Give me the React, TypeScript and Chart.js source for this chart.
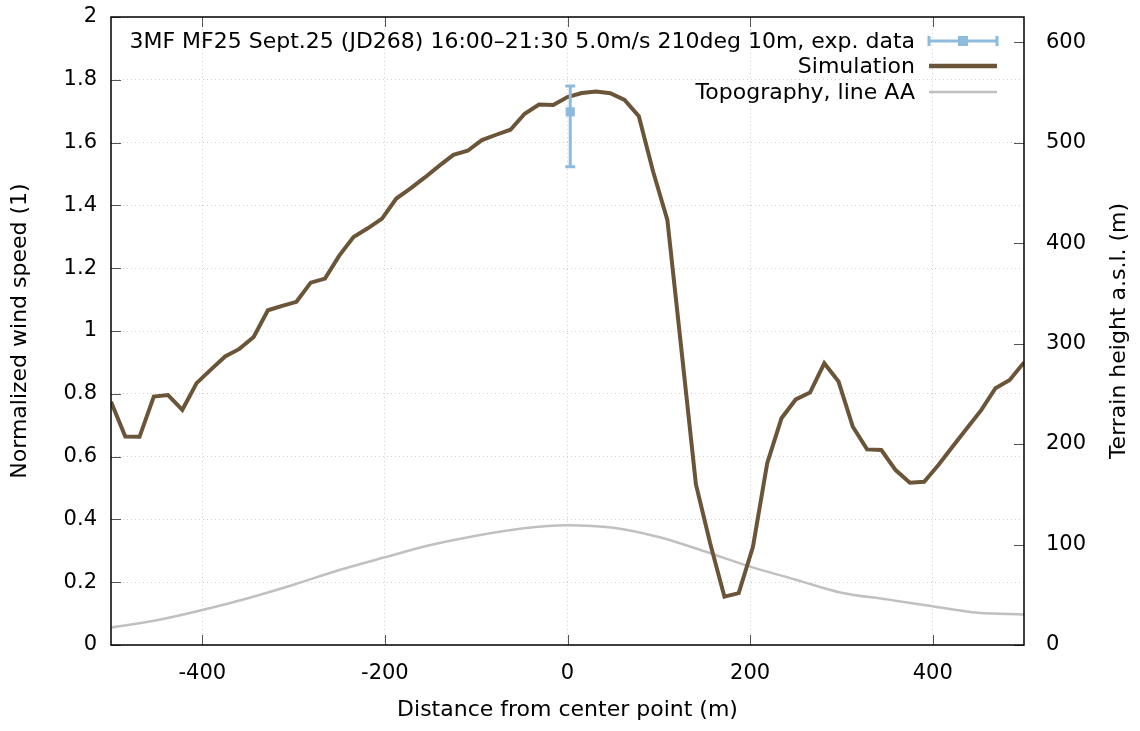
import React, { useEffect, useRef } from 'react';
import { Chart, registerables } from 'chart.js';

Chart.register(...registerables);

const FONT = 'DejaVu Sans';

// simulation profile along the line (normalized wind speed)
const simX = [
    -500, -484.375, -468.75, -453.125, -437.5, -421.875, -406.25, -390.625, -375, -359.375,
    -343.75, -328.125, -312.5, -296.875, -281.25, -265.625, -250, -234.375, -218.75, -203.125,
    -187.5, -171.875, -156.25, -140.625, -125, -109.375, -93.75, -78.125, -62.5, -46.875,
    -31.25, -15.625, 0, 15.625, 31.25, 46.875, 62.5, 78.125, 93.75, 109.375,
    125, 140.625, 156.25, 171.875, 187.5, 203.125, 218.75, 234.375, 250, 265.625,
    281.25, 296.875, 312.5, 328.125, 343.75, 359.375, 375, 390.625, 406.25, 421.875,
    437.5, 453.125, 468.75, 484.375, 500,
];
const simY = [
    0.775, 0.664, 0.663, 0.791, 0.796, 0.749, 0.834, 0.877, 0.919, 0.943,
    0.981, 1.066, 1.080, 1.093, 1.154, 1.167, 1.240, 1.299, 1.327, 1.358,
    1.422, 1.454, 1.489, 1.526, 1.561, 1.574, 1.608, 1.625, 1.641, 1.692,
    1.721, 1.720, 1.745, 1.758, 1.763, 1.757, 1.736, 1.684, 1.508, 1.354,
    0.935, 0.512, 0.324, 0.154, 0.165, 0.313, 0.579, 0.722, 0.782, 0.804,
    0.897, 0.839, 0.695, 0.623, 0.621, 0.557, 0.517, 0.520, 0.573, 0.632,
    0.690, 0.748, 0.818, 0.844, 0.900,
];

// terrain height (m a.s.l.)
const topoX = [-500, -450, -400, -350, -300, -250, -200, -150, -100, -50, 0, 50, 100, 150, 200, 250, 300, 350, 400, 450, 500];
const topoY = [17.3, 24.6, 34.8, 46.6, 60.0, 74.6, 87.3, 99.5, 108.8, 116.0, 119.3, 116.8, 107.5, 93.3, 78.0, 65.0, 52.0, 45.4, 38.5, 32.0, 30.4];

// measurement with error bar
const expX = [3];
const expY = [1.698];
const expLow = [1.523];
const expHigh = [1.78];

const xTicks = [-400, -200, 0, 200, 400];
const yTicks = [0, 0.2, 0.4, 0.6, 0.8, 1, 1.2, 1.4, 1.6, 1.8, 2];
const y2Ticks = [0, 100, 200, 300, 400, 500, 600];

const EXP_LABEL = '3MF MF25 Sept.25 (JD268) 16:00\u201321:30 5.0m/s 210deg 10m, exp. data';
const BLUE = '#8dbbdc';
const BROWN = '#6b5538';
const GREY = '#c0c0c0';

const errorBars = {
    id: 'errorBars',
    afterDatasetsDraw(chart: any) {
        const { ctx, scales } = chart;
        ctx.save();
        ctx.strokeStyle = BLUE;
        ctx.lineWidth = 3;
        expX.forEach((x, i) => {
            const px = scales.x.getPixelForValue(x);
            const lo = scales.y.getPixelForValue(expLow[i]);
            const hi = scales.y.getPixelForValue(expHigh[i]);
            ctx.beginPath();
            ctx.moveTo(px, lo);
            ctx.lineTo(px, hi);
            ctx.moveTo(px - 5, lo);
            ctx.lineTo(px + 5, lo);
            ctx.moveTo(px - 5, hi);
            ctx.lineTo(px + 5, hi);
            ctx.stroke();
        });
        ctx.restore();
    },
};

// gnuplot-like frame with inward tick marks, legend and y2 label
const decorations = {
    id: 'decorations',
    afterDraw(chart: any) {
        const { ctx, chartArea: a, scales } = chart;
        ctx.save();
        ctx.strokeStyle = '#555';
        ctx.lineWidth = 1;
        ctx.beginPath();
        xTicks.forEach((v) => {
            const px = Math.round(scales.x.getPixelForValue(v)) + 0.5;
            ctx.moveTo(px, a.bottom);
            ctx.lineTo(px, a.bottom - 10);
            ctx.moveTo(px, a.top);
            ctx.lineTo(px, a.top + 10);
        });
        yTicks.forEach((v) => {
            const py = Math.round(scales.y.getPixelForValue(v)) + 0.5;
            ctx.moveTo(a.left, py);
            ctx.lineTo(a.left + 10, py);
        });
        y2Ticks.forEach((v) => {
            const py = Math.round(scales.y2.getPixelForValue(v)) + 0.5;
            ctx.moveTo(a.right, py);
            ctx.lineTo(a.right - 10, py);
        });
        ctx.stroke();

        ctx.strokeStyle = '#000';
        ctx.lineWidth = 1.5;
        ctx.strokeRect(a.left, a.top, a.right - a.left, a.bottom - a.top);

        // legend
        const textRight = 915;
        const x0 = 929;
        const x1 = 997;
        const rows = [41, 66, 92];
        ctx.font = `22px "${FONT}"`;
        ctx.fillStyle = '#000';
        ctx.textAlign = 'right';
        ctx.textBaseline = 'middle';
        chart.data.datasets.forEach((ds: any, i: number) => {
            const y = rows[i];
            ctx.fillText(ds.label, textRight, y + 1);
            ctx.strokeStyle = ds.borderColor || ds.backgroundColor;
            ctx.lineWidth = ds.legendWidth;
            ctx.beginPath();
            ctx.moveTo(x0, y);
            ctx.lineTo(x1, y);
            if (i === 0) {
                ctx.moveTo(x0, y - 5);
                ctx.lineTo(x0, y + 5);
                ctx.moveTo(x1, y - 5);
                ctx.lineTo(x1, y + 5);
            }
            ctx.stroke();
            if (i === 0) {
                ctx.fillStyle = BLUE;
                ctx.fillRect((x0 + x1) / 2 - 5, y - 5, 10, 10);
                ctx.fillStyle = '#000';
            }
        });

        // right axis title, reading bottom to top
        ctx.font = `22px "${FONT}"`;
        ctx.translate(1119, (a.top + a.bottom) / 2);
        ctx.rotate(-Math.PI / 2);
        ctx.textAlign = 'center';
        ctx.fillText('Terrain height a.s.l. (m)', 0, 0);
        ctx.restore();
    },
};

const tickFont = { family: FONT, size: 21 };
const titleFont = { family: FONT, size: 22 };

const App: React.FC = () => {
    const canvasRef = useRef<HTMLCanvasElement>(null);
    const chartRef = useRef<Chart | null>(null);

    useEffect(() => {
        if (!canvasRef.current) return;
        if (chartRef.current) chartRef.current.destroy();

        chartRef.current = new Chart(canvasRef.current, {
            type: 'line',
            data: {
                datasets: [
                    {
                        label: EXP_LABEL,
                        data: expX.map((x, i) => ({ x, y: expY[i] })),
                        showLine: false,
                        pointStyle: 'rect',
                        pointRadius: 6.5,
                        pointBorderWidth: 0,
                        backgroundColor: BLUE,
                        borderColor: BLUE,
                        yAxisID: 'y',
                        legendWidth: 3,
                    } as any,
                    {
                        label: 'Simulation',
                        data: simX.map((x, i) => ({ x, y: simY[i] })),
                        borderColor: BROWN,
                        borderWidth: 4,
                        pointRadius: 0,
                        tension: 0,
                        yAxisID: 'y',
                        legendWidth: 4.5,
                    } as any,
                    {
                        label: 'Topography, line AA',
                        data: topoX.map((x, i) => ({ x, y: topoY[i] })),
                        borderColor: GREY,
                        borderWidth: 2.5,
                        pointRadius: 0,
                        cubicInterpolationMode: 'monotone',
                        yAxisID: 'y2',
                        legendWidth: 2.5,
                    } as any,
                ],
            },
            options: {
                responsive: false,
                animation: false,
                layout: { padding: { top: 17, left: 0, right: 0, bottom: 0 } },
                plugins: {
                    legend: { display: false },
                    tooltip: { enabled: false },
                },
                scales: {
                    x: {
                        type: 'linear',
                        position: 'bottom',
                        min: -500,
                        max: 500,
                        afterBuildTicks: (s: any) => {
                            s.ticks = xTicks.map((value) => ({ value }));
                        },
                        afterFit: (s: any) => {
                            s.height = 86;
                            s.paddingLeft = 0;
                            s.paddingRight = 0;
                        },
                        grid: { color: '#d0d0d0', lineWidth: 1, drawTicks: false },
                        border: { display: false, dash: [1, 3] },
                        ticks: { font: tickFont, color: '#000', padding: 16, maxRotation: 0, autoSkip: false },
                        title: {
                            display: true,
                            text: 'Distance from center point (m)',
                            font: titleFont,
                            color: '#000',
                            padding: { top: 0, bottom: 8 },
                        },
                    },
                    y: {
                        type: 'linear',
                        position: 'left',
                        min: 0,
                        max: 2,
                        afterBuildTicks: (s: any) => {
                            s.ticks = yTicks.map((value) => ({ value }));
                        },
                        afterFit: (s: any) => {
                            s.width = 111;
                            s.paddingTop = 0;
                            s.paddingBottom = 0;
                        },
                        grid: { color: '#d0d0d0', lineWidth: 1, drawTicks: false },
                        border: { display: false, dash: [1, 3] },
                        ticks: {
                            font: tickFont,
                            color: '#000',
                            padding: 14,
                            callback: (v: any) => String(Number(Number(v).toFixed(1))),
                        },
                        title: {
                            display: true,
                            text: 'Normalized wind speed (1)',
                            font: titleFont,
                            color: '#000',
                            padding: { top: 7, bottom: 0 },
                        },
                    },
                    y2: {
                        type: 'linear',
                        position: 'right',
                        min: 0,
                        max: 625,
                        afterBuildTicks: (s: any) => {
                            s.ticks = y2Ticks.map((value) => ({ value }));
                        },
                        afterFit: (s: any) => {
                            s.width = 116;
                            s.paddingTop = 0;
                            s.paddingBottom = 0;
                        },
                        grid: { drawOnChartArea: false, drawTicks: false },
                        border: { display: false },
                        ticks: { font: tickFont, color: '#000', padding: 22 },
                    },
                },
            },
            plugins: [errorBars, decorations],
        } as any);

        return () => {
            if (chartRef.current) {
                chartRef.current.destroy();
                chartRef.current = null;
            }
        };
    }, []);

    return (
        <div style={{ position: 'absolute', left: 0, top: 0, width: 1140, height: 731, background: '#fff' }}>
            <canvas ref={canvasRef} width={1140} height={731} style={{ width: 1140, height: 731 }}></canvas>
        </div>
    );
};

export default App;
